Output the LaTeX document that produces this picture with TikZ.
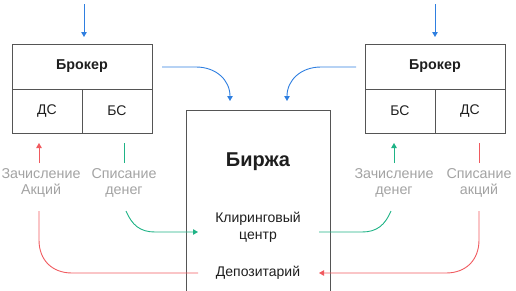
\documentclass[tikz,border=0pt]{standalone}
\usepackage{fontspec}
\setmainfont{Liberation Sans}
\usetikzlibrary{arrows.meta}
\definecolor{cblue}{HTML}{2F7FE0}
\definecolor{cred}{HTML}{F05A5F}
\definecolor{cgreen}{HTML}{1FB386}
\definecolor{cgray}{HTML}{A3A3A3}
\definecolor{cline}{HTML}{555555}
\definecolor{ctext}{HTML}{1E1E1E}
\tikzset{
  cell/.style={draw=cline, line width=1pt, rectangle, inner sep=0pt, text=ctext,
    font=\fontsize{14}{16.5}\selectfont},
  lbl/.style={text=cgray, align=center, inner sep=0pt, font=\fontsize{14.3}{16.5}\selectfont},
  inlbl/.style={text=ctext, align=center, inner sep=0pt, font=\fontsize{14}{17}\selectfont},
  tip/.style={-{Triangle[length=5pt,width=5.5pt]}},
  conn/.style={line width=0.9pt},
}
\begin{document}
\begin{tikzpicture}[x=1pt,y=-1pt]
\useasboundingbox (0,0) rectangle (516,290);
% left broker
\node[cell, minimum width=140pt, minimum height=45pt, font=\fontsize{14.3}{16}\selectfont\bfseries] (brokL) at (82,66.5) {Брокер};
\node[cell, minimum width=70pt, minimum height=44pt] (dsL) at (47,111) {ДС};
\node[cell, minimum width=70pt, minimum height=44pt] (bsL) at (117,111) {БС};
% right broker
\node[cell, minimum width=140pt, minimum height=45pt, font=\fontsize{14.3}{16}\selectfont\bfseries] (brokR) at (435,66.5) {Брокер};
\node[cell, minimum width=70pt, minimum height=44pt] (bsR) at (400,111) {БС};
\node[cell, minimum width=70pt, minimum height=44pt] (dsR) at (470,111) {ДС};
% exchange
\draw[cline, line width=1pt] (186,291) -- (186,110) -- (330,110) -- (330,291);
\node[inlbl, font=\fontsize{20}{22}\selectfont\bfseries] (birzha) at (258,162) {Биржа};
\node[inlbl] (clear) at (258,227) {Клиринговый\\центр};
\node[inlbl] (depo) at (258,273) {Депозитарий};
% labels
\node[lbl] (zL) at (41,183) {Зачисление\\Акций};
\node[lbl] (sL) at (124,183) {Списание\\денег};
\node[lbl] (zR) at (394,183) {Зачисление\\денег};
\node[lbl] (sR) at (479,183) {Списание\\акций};
% coordinates
\coordinate (tL) at (84,4);
\coordinate (tR) at (435,4);
\coordinate (bLs) at (162,67);
\coordinate (bLe) at (230,101);
\coordinate (bRs) at (356,67);
\coordinate (bRe) at (287,101);
\coordinate (gLin) at (198,232);
\coordinate (gRout) at (319,232);
\coordinate (rLout) at (198,273);
\coordinate (rRin) at (319,273);
% top arrows
\draw[cblue, conn, tip] (tL) -- (84,37);
\draw[cblue, conn, tip] (tR) -- (435,37);
% blue curves
\draw[cblue, conn, tip] (bLs) -- (196,67) .. controls (216,67) and (230,80) .. (bLe);
\draw[cblue, conn, tip] (bRs) -- (321,67) .. controls (301,67) and (287,80) .. (bRe);
% left side
\draw[cred, conn, tip] (39,163) -- (39,143);
\draw[cgreen, conn] (124,143) -- (124,163);
\draw[cgreen, conn, tip] (126,211) .. controls (132,225) and (140,232) .. (155,232) -- (gLin);
\draw[cred, conn] (rLout) -- (72,273) .. controls (52,273) and (39,260) .. (39,240) -- (39,211);
% right side
\draw[cgreen, conn, tip] (394,163) -- (394,143);
\draw[cred, conn] (479,143) -- (479,163);
\draw[cgreen, conn] (391,211) .. controls (385,225) and (377,232) .. (362,232) -- (gRout);
\draw[cred, conn, tip] (479,211) -- (479,240) .. controls (479,260) and (466,273) .. (446,273) -- (rRin);
\end{tikzpicture}
\end{document}
